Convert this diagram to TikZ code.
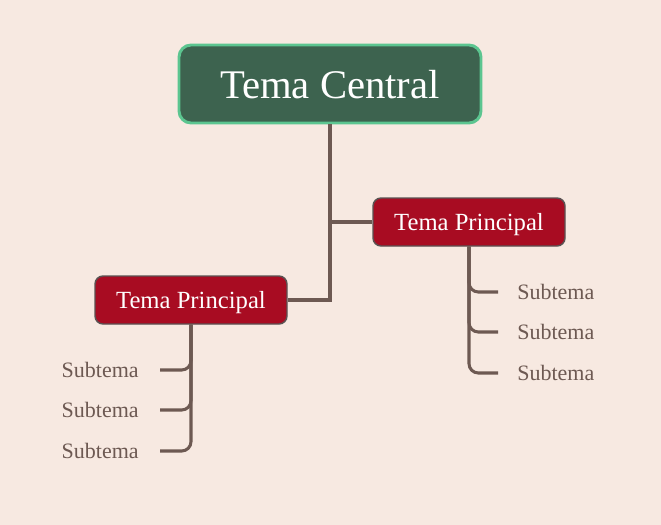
\documentclass[tikz,border=0pt]{standalone}
\usepackage{fontspec}
\setmainfont{Liberation Serif}
\definecolor{mapaFondo}{HTML}{F7E9E1}
\definecolor{mapaVerde}{HTML}{3D634F}
\definecolor{mapaBorde}{HTML}{5CC590}
\definecolor{mapaRojo}{HTML}{A80C22}
\definecolor{mapaGris}{HTML}{5A5252}
\definecolor{mapaCafe}{HTML}{6D5952}
\usepackage{tikz}

\begin{document}
\begin{tikzpicture}[x=0.75pt, y=-0.75pt,
		central/.style={draw=mapaBorde, line width=2.2pt, fill=mapaVerde, rounded corners=9pt,
			minimum width=226.5pt, minimum height=58.5pt, text depth=0pt, text=white,
			font=\fontsize{30.5}{34}\selectfont},
		principal/.style={draw=mapaGris, line width=1.1pt, fill=mapaRojo, rounded corners=6pt,
			minimum width=144pt, minimum height=36pt, text depth=0pt, text=white,
			font=\fontsize{18.5}{22}\selectfont},
		subtema/.style={inner sep=0pt, text=mapaCafe, font=\fontsize{16.5}{20}\selectfont},
		rama/.style={draw=mapaCafe, line width=2.3pt}]
		\fill[mapaFondo] (0,0) rectangle (661,525);
		\node[central] (central) at (330,84) {Tema Central};
		\node[principal] (der) at (469,222) {Tema Principal};
		\node[principal] (izq) at (191,300) {Tema Principal};
		\draw[rama] (central.south) |- (izq.east);
		\draw[rama] (central.south |- der.west) -- (der.west);
		\foreach \y [count=\i] in {370,410,451}{
			\node[subtema, anchor=east] (izq\i) at (139,\y) {Subtema};
			\draw[rama, rounded corners=7pt] (izq.south) |- ([xshift=15.75pt]izq\i.east);
		}
		\foreach \y [count=\i] in {292,332,373}{
			\node[subtema, anchor=west] (der\i) at (517,\y) {Subtema};
			\draw[rama, rounded corners=7pt] (der.south) |- ([xshift=-14.25pt]der\i.west);
		}
	\end{tikzpicture}
\end{document}
